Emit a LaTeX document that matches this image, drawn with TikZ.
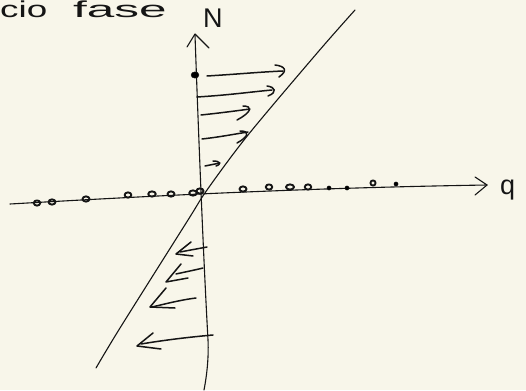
\documentclass[tikz,border=0pt]{standalone}
\usepackage{fontspec}
\setmainfont{Liberation Sans}
\definecolor{paper}{HTML}{F8F6EA}
\definecolor{ink}{HTML}{151515}
\begin{document}
\begin{tikzpicture}[x=1pt,y=-1pt,
  ink/.style={draw=ink,line cap=round,line join=round},
  axis/.style={ink,line width=1.1pt},
  arr/.style={ink,line width=1.5pt},
  dotmark/.style={ink,line width=1.9pt},
  lbl/.style={inner sep=0pt,text=ink}]
\useasboundingbox (0,0) rectangle (526,390);
\fill[paper] (0,0) rectangle (526,390);
\begin{scope}
\clip (0,0) rectangle (526,390);
% title text
\node[lbl,anchor=base west,font=\fontsize{23}{27}\selectfont] (title) at (0,17.5)
  {\scalebox{1.6}[1]{cio}\hspace{26pt}\scalebox{2.15}[1]{fase}};
% axis labels
\node[lbl,anchor=base west,font=\fontsize{27}{30}\selectfont] (N) at (203,28) {N};
\node[lbl,anchor=base west,font=\fontsize{27}{30}\selectfont] (q) at (500,194) {q};
% vertical axis
\draw[axis] (195,35) .. controls (198,120) and (203,250) .. (208,340) .. controls (209,360) and (206,380) .. (204,390);
\draw[axis] (187,47) -- (195,34) -- (209,48);
% horizontal axis
\draw[axis] (10,204) .. controls (150,196) and (300,188) .. (487,185);
\draw[axis] (475,177) -- (487,185) -- (475,195);
% diagonal line
\draw[axis] plot[smooth] coordinates {(96,368) (120,328) (188,220) (207,190) (248,135) (318,52) (355,10)};
% big dot on N axis
\fill[ink] (195,75) ellipse (4 and 3.2);
% right arrows
\draw[arr] (207,76) .. controls (240,74) and (260,72) .. (283,71);
\draw[arr] (275,65) .. controls (284,66) and (289,70) .. (279,77);
\draw[arr] (197,97) .. controls (230,95) and (250,92) .. (272,90);
\draw[arr] (267,86) .. controls (275,87) and (278,92) .. (268,96);
\draw[arr] (201,115) .. controls (220,113) and (235,111) .. (250,109);
\draw[arr] (243,106) .. controls (253,106) and (252,112) .. (237,120);
\draw[arr] (202,139) .. controls (220,137) and (235,134) .. (248,132);
\draw[arr] (240,131) .. controls (251,131) and (248,137) .. (237,143);
\draw[arr] (205,166) -- (220,163);
\draw[arr] (213,161) .. controls (220,161) and (222,164) .. (216,166);
% left arrows
\draw[arr] (207,247) -- (180,252);
\draw[arr] (191,242) -- (176,254) -- (193,256);
\draw[arr] (203,268) .. controls (195,270) and (185,272) .. (176,274);
\draw[arr] (181,264) -- (166,282) -- (188,278);
\draw[arr] (196,298) .. controls (180,300) and (165,304) .. (152,307);
\draw[arr] (166,288) -- (150,307) -- (175,308);
\draw[arr] (213,335) .. controls (190,337) and (165,340) .. (141,344);
\draw[arr] (153,333) -- (137,346) -- (161,349);
% dots on q axis
\foreach \x/\y/\r in {37/203/3.2,52/202/3.5,86/199/3.5,128/195/3.4,152/194/3.8,171/194/3.5,193/193/3.8,200/191/3.6,243/189/3.5,269/187/3.2,290/187/4,308/187/3.3,373/183/2.6}
  \draw[dotmark] (\x,\y) ellipse (\r pt and 2.6pt);
\foreach \x/\y in {329/188,347/188,396/184}
  \fill[ink] (\x,\y) circle (2.1pt);
\end{scope}
\end{tikzpicture}
\end{document}
